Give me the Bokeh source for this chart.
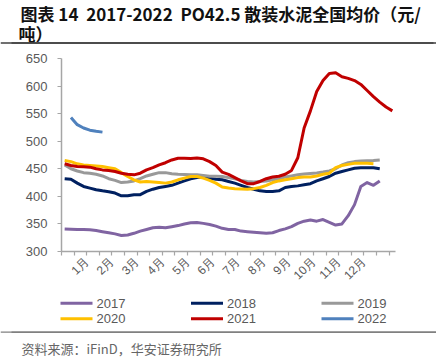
import math
from bokeh.plotting import figure
from bokeh.layouts import column
from bokeh.models import FixedTicker, Range1d, Span
from bokeh.core.properties import value
from bokeh.embed import file_html
from bokeh.resources import INLINE

nan = float("nan")

# ---- data (weekly national average price, yuan/ton) ----
years = ["2017", "2018", "2019", "2020", "2021", "2022"]
colors = ["#8064A2", "#002060", "#999999", "#FFC000", "#C00000", "#4F81BD"]

p2017 = [341, 340.5, 340, 340, 339.5, 338, 336, 334, 332, 329, 330, 333, 337, 340, 343,
         344, 343, 345, 347, 350, 352, 352.5, 351, 349, 346, 342, 340, 340, 337, 336,
         335, 334, 333, 334, 338, 341, 345, 351, 355, 357, 355, 358, 353, 348, 350,
         365, 385, 418, 425, 420, 428]
p2018 = [432, 431, 424, 418, 415, 412, 410, 408.5, 406, 401, 401, 403, 403, 409, 413,
         416, 418, 420, 424, 428, 432, 434, 435, 433, 431, 430, 427, 424, 420, 416,
         413, 410, 409, 409, 410, 416, 418, 419, 421, 423, 428, 432, 436, 442, 445,
         448, 451, 452, 452, 452, 450]
p2019 = [457, 450, 446, 443, 442, 440, 437, 432, 429, 425, 426, 428, 432, 437, 440,
         443, 443, 441, 440, 439.5, 439, 439, 438, 436.5, 436.5, 436, 434, 432, 429, 427,
         426, 427, 428, 430, 432, 435, 437, 439, 440.5, 441.5, 442.5, 444, 446, 450, 457,
         461, 463, 464, 464.5, 465, 466]
p2020 = [465, 463, 459, 457, 456, 455, 454, 452, 450, 443, 436, 430, 426, 427, 426,
         425, 424, 426, 430, 433, 436, 436, 433, 429, 424, 417, 415, 414, 413.5, 413,
         414, 416, 420, 425, 428, 430, 432, 434, 435, 435, 437, 440, 442, 452, 456,
         458, 460, 460, 460, 459]
p2021 = [459, 456, 454, 453.5, 453, 450, 448, 447, 445, 442, 440, 439, 442, 448, 452,
         457, 461, 466, 469, 469, 468.5, 469.5, 468, 463, 456, 444, 440, 434, 428, 423,
         423, 427, 432, 435, 436.5, 440, 447, 470, 524, 555, 590, 610, 623, 624, 617,
         614, 610, 603, 592, 581, 571, 562, 555]
p2022 = [nan, 543, 530, 524, 520, 518, 516.5]
series = [p2017, p2018, p2019, p2020, p2021, p2022]

month_labels = ["1月", "2月", "3月", "4月", "5月", "6月", "7月", "8月", "9月", "10月", "11月", "12月"]
month_pos = [4, 8, 12, 16, 20, 24, 28, 32, 36, 40, 44, 48]
x_ticks = list(range(0, 54, 2))
y_ticks = [300, 350, 400, 450, 500, 550, 600, 650]

title_lines = ["图表 14\u00a0\u00a02017-2022\u00a0\u00a0PO42.5 散装水泥全国均价（元/", "吨）"]
source_text = "资料来源：iFinD，华安证券研究所"

W = 436
CJK = value("Noto Sans CJK SC")
lab_col = "#595959"


def blank(h):
    # y measured upward from the bottom edge of this strip (pixels)
    f = figure(width=W, height=h, output_backend="svg", toolbar_location=None,
               x_range=Range1d(0, W), y_range=Range1d(0, h),
               x_axis_location=None, y_axis_location=None, frame_align=False,
               min_border=0, min_border_left=0, min_border_right=0,
               min_border_top=0, min_border_bottom=0)
    f.outline_line_color = None
    f.xgrid.visible = False
    f.ygrid.visible = False
    return f


# ---- header (50 px tall) ----
head = blank(50)
head.text(x=[20, 18], y=[37, 17], text=title_lines, text_font=CJK,
          text_font_style="bold", text_font_size="17px", text_baseline="middle",
          text_color="#111111")
head.hbar(y=[7.5], left=[11], right=[433], height=1.4, fill_color="#404040",
          line_color=None)
head.add_layout(Span(location=7.5, dimension="width", line_color="#404040", line_width=1.3))

# ---- main chart ----
p = figure(width=W, height=240, output_backend="svg", toolbar_location=None,
           x_range=Range1d(0, 53), y_range=Range1d(300, 650), frame_align=False,
           min_border_left=61, min_border_right=41, min_border_top=8, min_border_bottom=32)
p.outline_line_color = None
p.xgrid.visible = False
p.ygrid.visible = False

for vals, col in zip(series, colors):
    xs = [i + 0.5 for i in range(len(vals))]
    p.line(xs, vals, line_color=col, line_width=3, line_join="round")

axis_col = "#A6A6A6"
for ax in (p.xaxis[0], p.yaxis[0]):
    ax.axis_line_color = axis_col
    ax.axis_line_width = 1.5
    ax.major_tick_line_color = axis_col
    ax.major_tick_line_width = 1.2
    ax.major_tick_in = 0
    ax.major_tick_out = 4
    ax.minor_tick_line_color = None
    ax.major_label_text_color = lab_col
    ax.major_label_text_font = "Liberation Sans"

p.yaxis.ticker = FixedTicker(ticks=y_ticks)
p.yaxis.major_label_text_font_size = "13px"
p.yaxis.major_label_standoff = 10

p.xaxis.ticker = FixedTicker(ticks=x_ticks)
overrides = {t: "" for t in x_ticks}
for pos, lab in zip(month_pos, month_labels):
    overrides[pos] = lab
p.xaxis.major_label_overrides = overrides
p.xaxis.major_label_orientation = math.pi / 4
p.xaxis.major_label_text_font_size = "12px"
p.xaxis.major_label_standoff = 4

# ---- footer (74 px tall): legend, rule, source ----
foot = blank(74)
col_x = [60, 190.5, 321]
row_y = [61.3, 45.7]
lx0 = [col_x[i % 3] for i in range(len(years))]
lx1 = [x + 32 for x in lx0]
ly = [row_y[i // 3] for i in range(len(years))]
foot.segment(x0=lx0, y0=ly, x1=lx1, y1=ly, line_color=colors, line_width=3)
foot.text(x=[x + 36 for x in lx0], y=ly, text=years, text_font=value("Liberation Sans"),
          text_font_size="13px", text_baseline="middle", text_color=lab_col)
foot.hbar(y=[32.3], left=[11], right=[436], height=1.4, fill_color="#808080",
          line_color=None)
foot.add_layout(Span(location=32.3, dimension="width", line_color="#808080", line_width=1.3))
foot.text(x=[21], y=[16], text=[source_text], text_font=CJK, text_font_size="13px",
          text_baseline="middle", text_color="#666666")

layout = column(head, p, foot, spacing=0)
open("out.html", "w").write(file_html(layout, INLINE))
